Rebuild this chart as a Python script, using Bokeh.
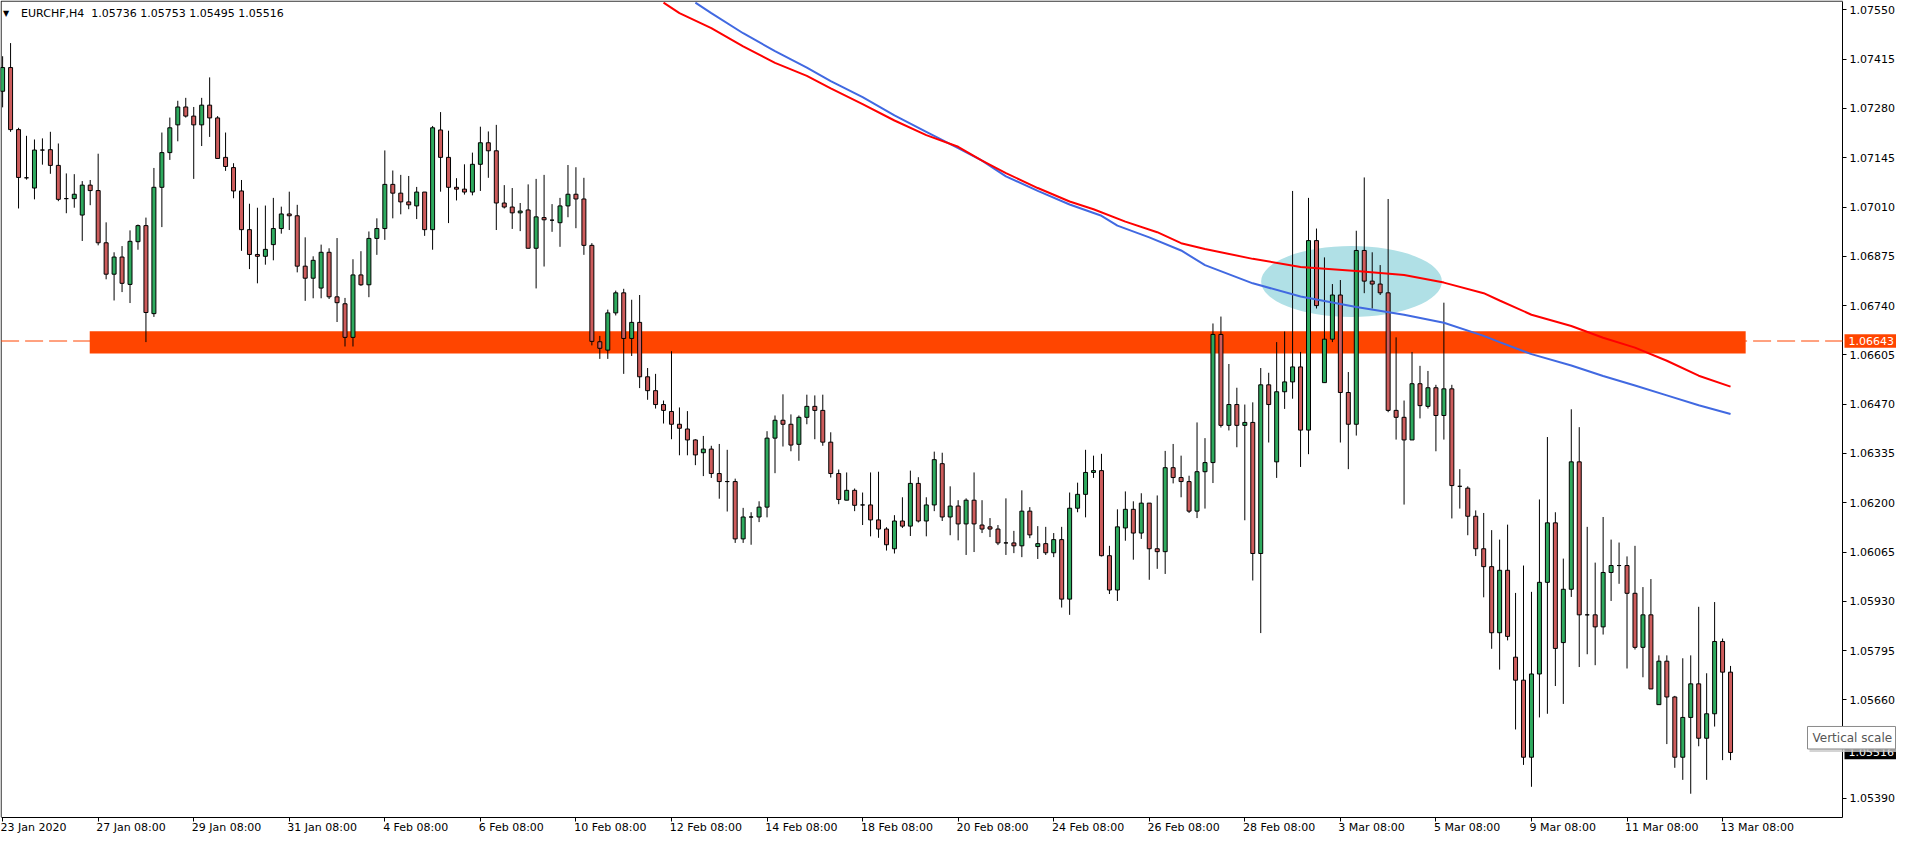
from bokeh.plotting import figure
from bokeh.models import (Range1d, FixedTicker, PrintfTickFormatter, Label,
                          ColumnDataSource, LinearAxis)
from bokeh.core.properties import value
from bokeh.embed import file_html
from bokeh.resources import INLINE

# ---------------- data (EURCHF, H4) ----------------
open_ = [
    1.07327, 1.07392, 1.07222, 1.07090, 1.07062, 1.07166, 1.07167, 1.07124, 1.07033, 1.07033,
    1.06988, 1.07070, 1.07055, 1.06912, 1.06826, 1.06873, 1.06798, 1.06915, 1.06959, 1.06718,
    1.07064, 1.07159, 1.07235, 1.07284, 1.07259, 1.07235, 1.07289, 1.07254, 1.07146, 1.07118,
    1.07054, 1.06948, 1.06880, 1.06875, 1.06907, 1.06951, 1.06991, 1.06986, 1.06848, 1.06815,
    1.06788, 1.06886, 1.06764, 1.06745, 1.06653, 1.06824, 1.06797, 1.06924, 1.06951, 1.07072,
    1.07048, 1.07024, 1.07013, 1.07051, 1.06948, 1.07221, 1.07146, 1.07064, 1.07059, 1.07051,
    1.07127, 1.07186, 1.07164, 1.07021, 1.07010, 1.06994, 1.07002, 1.06897, 1.06981, 1.06974,
    1.06967, 1.07013, 1.07045, 1.07032, 1.06905, 1.06641, 1.06618, 1.06720, 1.06775, 1.06650,
    1.06694, 1.06545, 1.06507, 1.06469, 1.06450, 1.06415, 1.06402, 1.06372, 1.06337, 1.06347,
    1.06280, 1.06258, 1.06258, 1.06101, 1.06161, 1.06161, 1.06188, 1.06377, 1.06426, 1.06415,
    1.06360, 1.06434, 1.06464, 1.06453, 1.06366, 1.06280, 1.06207, 1.06234, 1.06194, 1.06194,
    1.06153, 1.06128, 1.06074, 1.06150, 1.06136, 1.06253, 1.06150, 1.06194, 1.06307, 1.06161,
    1.06191, 1.06142, 1.06207, 1.06139, 1.06134, 1.06128, 1.06090, 1.06090, 1.06082, 1.06177,
    1.06080, 1.06088, 1.06063, 1.06099, 1.05936, 1.06185, 1.06223, 1.06283, 1.06288, 1.06055,
    1.05961, 1.06131, 1.06182, 1.06117, 1.06199, 1.06074, 1.06066, 1.06296, 1.06269, 1.06258,
    1.06177, 1.06285, 1.06310, 1.06661, 1.06412, 1.06469, 1.06412, 1.06420, 1.06061, 1.06523,
    1.06312, 1.06504, 1.06531, 1.06572, 1.06399, 1.06918, 1.06529, 1.06648, 1.06769, 1.06502,
    1.06415, 1.06891, 1.06807, 1.06799, 1.06775, 1.06453, 1.06434, 1.06372, 1.06526, 1.06464,
    1.06515, 1.06439, 1.06512, 1.06245, 1.06240, 1.06163, 1.06074, 1.06025, 1.05844, 1.06015,
    1.05777, 1.05714, 1.05503, 1.05731, 1.05982, 1.06145, 1.05817, 1.05963, 1.06312, 1.05893,
    1.05893, 1.05860, 1.06009, 1.06028, 1.06028, 1.05952, 1.05804, 1.05893, 1.05647, 1.05766,
    1.05668, 1.05503, 1.05612, 1.05704, 1.05555, 1.05622, 1.05820, 1.05736,
]
high_ = [
    1.07423, 1.07459, 1.07227, 1.07205, 1.07195, 1.07198, 1.07216, 1.07184, 1.07102, 1.07100,
    1.07081, 1.07084, 1.07156, 1.06968, 1.06886, 1.06903, 1.06946, 1.06962, 1.06981, 1.07117,
    1.07214, 1.07255, 1.07301, 1.07309, 1.07284, 1.07309, 1.07365, 1.07259, 1.07214, 1.07130,
    1.07084, 1.07019, 1.07008, 1.07014, 1.07035, 1.07011, 1.07052, 1.07016, 1.06927, 1.06875,
    1.06907, 1.06897, 1.06925, 1.06761, 1.06867, 1.06889, 1.06943, 1.06979, 1.07165, 1.07110,
    1.07098, 1.07095, 1.07065, 1.07051, 1.07232, 1.07270, 1.07219, 1.07089, 1.07127, 1.07159,
    1.07230, 1.07217, 1.07235, 1.07070, 1.07062, 1.07021, 1.07072, 1.07087, 1.07098, 1.07018,
    1.07035, 1.07125, 1.07119, 1.07090, 1.06911, 1.06657, 1.06729, 1.06781, 1.06786, 1.06756,
    1.06769, 1.06569, 1.06553, 1.06480, 1.06615, 1.06461, 1.06451, 1.06374, 1.06383, 1.06356,
    1.06361, 1.06345, 1.06266, 1.06186, 1.06174, 1.06204, 1.06396, 1.06439, 1.06497, 1.06442,
    1.06439, 1.06496, 1.06494, 1.06496, 1.06393, 1.06291, 1.06283, 1.06239, 1.06228, 1.06283,
    1.06285, 1.06133, 1.06166, 1.06215, 1.06288, 1.06270, 1.06215, 1.06340, 1.06337, 1.06245,
    1.06207, 1.06212, 1.06283, 1.06207, 1.06158, 1.06139, 1.06212, 1.06123, 1.06234, 1.06188,
    1.06136, 1.06134, 1.06117, 1.06134, 1.06228, 1.06255, 1.06345, 1.06329, 1.06334, 1.06082,
    1.06182, 1.06231, 1.06204, 1.06226, 1.06199, 1.06220, 1.06342, 1.06361, 1.06329, 1.06274,
    1.06420, 1.06377, 1.06691, 1.06710, 1.06580, 1.06515, 1.06469, 1.06475, 1.06569, 1.06556,
    1.06640, 1.06669, 1.07054, 1.06613, 1.07035, 1.06951, 1.06872, 1.06799, 1.06810, 1.06558,
    1.06945, 1.07091, 1.06886, 1.06851, 1.07032, 1.06653, 1.06480, 1.06613, 1.06575, 1.06561,
    1.06523, 1.06748, 1.06523, 1.06292, 1.06245, 1.06179, 1.06172, 1.06125, 1.06099, 1.06140,
    1.05953, 1.06028, 1.05956, 1.06209, 1.06380, 1.06174, 1.06047, 1.06456, 1.06407, 1.06134,
    1.06036, 1.06161, 1.06099, 1.06091, 1.06053, 1.06082, 1.05969, 1.05991, 1.05782, 1.05782,
    1.05671, 1.05774, 1.05782, 1.05915, 1.05733, 1.05928, 1.05828, 1.05753,
]
low_ = [
    1.07283, 1.07216, 1.07006, 1.07085, 1.07031, 1.07126, 1.07101, 1.07026, 1.06993, 1.07008,
    1.06917, 1.07015, 1.06905, 1.06812, 1.06754, 1.06777, 1.06747, 1.06893, 1.06640, 1.06709,
    1.06955, 1.07139, 1.07190, 1.07255, 1.07087, 1.07177, 1.07202, 1.07143, 1.07109, 1.07034,
    1.06890, 1.06840, 1.06801, 1.06852, 1.06864, 1.06937, 1.06947, 1.06831, 1.06753, 1.06760,
    1.06760, 1.06758, 1.06695, 1.06628, 1.06628, 1.06794, 1.06763, 1.06879, 1.06920, 1.06979,
    1.06990, 1.07004, 1.06977, 1.06931, 1.06893, 1.07052, 1.06966, 1.07028, 1.07044, 1.07042,
    1.07054, 1.07090, 1.06947, 1.07006, 1.06950, 1.06944, 1.06897, 1.06787, 1.06847, 1.06942,
    1.06901, 1.06982, 1.06952, 1.06879, 1.06631, 1.06594, 1.06594, 1.06713, 1.06553, 1.06602,
    1.06514, 1.06482, 1.06458, 1.06417, 1.06374, 1.06330, 1.06330, 1.06303, 1.06273, 1.06268,
    1.06211, 1.06176, 1.06090, 1.06090, 1.06085, 1.06147, 1.06160, 1.06281, 1.06354, 1.06341,
    1.06315, 1.06415, 1.06374, 1.06356, 1.06269, 1.06196, 1.06207, 1.06177, 1.06139, 1.06108,
    1.06104, 1.06069, 1.06061, 1.06131, 1.06109, 1.06146, 1.06108, 1.06177, 1.06150, 1.06111,
    1.06097, 1.06057, 1.06065, 1.06117, 1.06106, 1.06084, 1.06057, 1.06062, 1.06051, 1.06103,
    1.06046, 1.06057, 1.06051, 1.05913, 1.05893, 1.06174, 1.06160, 1.06268, 1.06053, 1.05950,
    1.05931, 1.06096, 1.06044, 1.06101, 1.05989, 1.06019, 1.06005, 1.06253, 1.06215, 1.06172,
    1.06158, 1.06184, 1.06254, 1.06406, 1.06398, 1.06352, 1.06152, 1.05987, 1.05843, 1.06365,
    1.06268, 1.06457, 1.06485, 1.06298, 1.06333, 1.06732, 1.06529, 1.06640, 1.06365, 1.06292,
    1.06384, 1.06774, 1.06732, 1.06769, 1.06448, 1.06373, 1.06195, 1.06372, 1.06431, 1.06458,
    1.06341, 1.06373, 1.06157, 1.06184, 1.06111, 1.06054, 1.05941, 1.05800, 1.05743, 1.05823,
    1.05579, 1.05482, 1.05422, 1.05612, 1.05622, 1.05698, 1.05649, 1.05942, 1.05750, 1.05785,
    1.05755, 1.05839, 1.05931, 1.05978, 1.05746, 1.05798, 1.05722, 1.05690, 1.05647, 1.05539,
    1.05474, 1.05441, 1.05403, 1.05533, 1.05441, 1.05587, 1.05495, 1.05495,
]
close_ = [
    1.07392, 1.07222, 1.07091, 1.07090, 1.07166, 1.07166, 1.07124, 1.07031, 1.07033, 1.07045,
    1.07070, 1.07055, 1.06912, 1.06826, 1.06873, 1.06801, 1.06916, 1.06959, 1.06721, 1.07064,
    1.07159, 1.07227, 1.07284, 1.07259, 1.07235, 1.07289, 1.07254, 1.07143, 1.07121, 1.07054,
    1.06948, 1.06880, 1.06875, 1.06894, 1.06951, 1.06991, 1.06986, 1.06848, 1.06815, 1.06864,
    1.06886, 1.06764, 1.06748, 1.06653, 1.06824, 1.06797, 1.06924, 1.06951, 1.07072, 1.07048,
    1.07024, 1.07016, 1.07051, 1.06948, 1.07227, 1.07146, 1.07064, 1.07059, 1.07051, 1.07127,
    1.07186, 1.07164, 1.07021, 1.07010, 1.06994, 1.06999, 1.06897, 1.06983, 1.06975, 1.06974,
    1.07013, 1.07045, 1.07032, 1.06905, 1.06642, 1.06623, 1.06720, 1.06775, 1.06650, 1.06694,
    1.06545, 1.06507, 1.06469, 1.06453, 1.06415, 1.06404, 1.06372, 1.06331, 1.06347, 1.06280,
    1.06258, 1.06258, 1.06101, 1.06161, 1.06161, 1.06188, 1.06377, 1.06426, 1.06415, 1.06358,
    1.06434, 1.06464, 1.06453, 1.06366, 1.06280, 1.06209, 1.06234, 1.06193, 1.06194, 1.06153,
    1.06128, 1.06085, 1.06150, 1.06136, 1.06253, 1.06150, 1.06194, 1.06318, 1.06161, 1.06191,
    1.06142, 1.06207, 1.06142, 1.06128, 1.06128, 1.06090, 1.06090, 1.06082, 1.06177, 1.06112,
    1.06088, 1.06063, 1.06099, 1.05936, 1.06185, 1.06223, 1.06283, 1.06288, 1.06055, 1.05961,
    1.06134, 1.06182, 1.06117, 1.06199, 1.06074, 1.06066, 1.06296, 1.06269, 1.06258, 1.06177,
    1.06285, 1.06310, 1.06661, 1.06412, 1.06469, 1.06412, 1.06420, 1.06061, 1.06523, 1.06469,
    1.06504, 1.06531, 1.06572, 1.06399, 1.06918, 1.06740, 1.06648, 1.06769, 1.06502, 1.06415,
    1.06891, 1.06807, 1.06799, 1.06775, 1.06453, 1.06434, 1.06372, 1.06526, 1.06466, 1.06515,
    1.06439, 1.06512, 1.06247, 1.06245, 1.06163, 1.06074, 1.06025, 1.05844, 1.06015, 1.05834,
    1.05714, 1.05503, 1.05731, 1.05982, 1.06145, 1.05801, 1.05963, 1.06312, 1.05893, 1.05893,
    1.05860, 1.06009, 1.06028, 1.06028, 1.05952, 1.05804, 1.05893, 1.05690, 1.05766, 1.05668,
    1.05503, 1.05612, 1.05704, 1.05555, 1.05622, 1.05820, 1.05736, 1.05516,
]

# moving averages (bar index, price)
ma_red_bar = [83, 85, 89, 93, 97, 101, 104, 108, 112, 116, 120, 123, 126, 130, 134, 137, 141,
              145, 148, 151, 157, 163, 170, 176, 181, 186, 188, 192, 197, 201, 205, 209, 213, 217]
ma_red_val = [1.07570, 1.07541, 1.07500, 1.07450, 1.07405, 1.07369, 1.07335, 1.07292, 1.07247,
              1.07207, 1.07175, 1.07137, 1.07103, 1.07062, 1.07025, 1.07004, 1.06970, 1.06941,
              1.06911, 1.06895, 1.06868, 1.06846, 1.06835, 1.06824, 1.06803, 1.06774, 1.06754,
              1.06715, 1.06684, 1.06652, 1.06625, 1.06589, 1.06548, 1.06518]
ma_blue_bar = [87, 89, 93, 97, 101, 104, 108, 112, 116, 120, 123, 126, 130, 134, 138, 140, 144,
               148, 151, 157, 163, 170, 176, 181, 186, 188, 192, 197, 201, 205, 209, 213, 217]
ma_blue_val = [1.07570, 1.07541, 1.07486, 1.07437, 1.07392, 1.07355, 1.07311, 1.07261, 1.07216,
               1.07171, 1.07137, 1.07094, 1.07054, 1.07017, 1.06986, 1.06959, 1.06927, 1.06891,
               1.06851, 1.06801, 1.06765, 1.06736, 1.06715, 1.06693, 1.06657, 1.06640, 1.06607,
               1.06576, 1.06547, 1.06521, 1.06494, 1.06467, 1.06443]

# time axis labels (every 12 bars)
tick_bars = list(range(0, 217, 12))
tick_labels = ["23 Jan 2020", "27 Jan 08:00", "29 Jan 08:00", "31 Jan 08:00", "4 Feb 08:00",
               "6 Feb 08:00", "10 Feb 08:00", "12 Feb 08:00", "14 Feb 08:00", "18 Feb 08:00",
               "20 Feb 08:00", "24 Feb 08:00", "26 Feb 08:00", "28 Feb 08:00", "3 Mar 08:00",
               "5 Mar 08:00", "9 Mar 08:00", "11 Mar 08:00", "13 Mar 08:00"]

# price axis ticks
price_ticks = [1.05390, 1.05660, 1.05795, 1.05930, 1.06065, 1.06200, 1.06335, 1.06470,
               1.06605, 1.06740, 1.06875, 1.07010, 1.07145, 1.07280, 1.07415, 1.07550]

# drawn objects
hline_price = 1.06643
zone_top, zone_bottom = 1.06670, 1.06609
zone_start, zone_end = 10.94, 218.9
ellipse_bar, ellipse_price = 169.4, 1.06806
ellipse_w, ellipse_h = 22.7, 0.00194
last_price = close_[-1]
symbol_text = "EURCHF,H4\u00a0 1.05736 1.05753 1.05495 1.05516"

# ---------------- layout geometry ----------------
W, H = 1896, 834
chart_left, chart_right = -0.19, 231.06        # bar units: chart area edges
chart_bottom, chart_top = 1.05339, 1.07574     # price units: chart area edges
PX_X = (chart_right - chart_left) / 1841.4      # bars per pixel
PX_Y = (chart_top - chart_bottom) / 816.0       # price per pixel
x0 = chart_left - 0.6 * PX_X
x1 = x0 + W * PX_X
y1 = chart_top + 0.6 * PX_Y
y0 = y1 - H * PX_Y

FONT = "DejaVu Sans"
BULL = "#2EAA5E"
BEAR = "#CD5C5C"
ORANGE = "#FF4500"

p = figure(width=W, height=H, output_backend="svg", toolbar_location=None,
           x_range=Range1d(x0, x1), y_range=Range1d(y0, y1),
           y_axis_location="right", x_axis_location="below", min_border=0)
p.grid.visible = False
p.outline_line_color = None
p.background_fill_color = "white"
p.border_fill_color = "white"

# right price axis, pinned to the chart's right edge
ya = p.yaxis[0]
ya.fixed_location = chart_right
ya.bounds = (chart_bottom, chart_top)
ya.ticker = FixedTicker(ticks=price_ticks)
ya.formatter = PrintfTickFormatter(format="%.5f")
ya.major_tick_in = 0
ya.major_tick_out = 4
ya.minor_tick_in = 0
ya.minor_tick_out = 0
ya.major_label_standoff = 3
ya.major_label_text_font = FONT
ya.major_label_text_font_size = "11px"
ya.major_label_text_color = "black"
ya.axis_line_color = "black"
ya.major_tick_line_color = "black"
ya.level = "underlay"

# bottom time axis: tick marks
xa = p.xaxis[0]
xa.fixed_location = chart_bottom
xa.bounds = (chart_left, chart_right)
xa.ticker = FixedTicker(ticks=tick_bars)
xa.major_label_overrides = {b: "" for b in tick_bars}
xa.major_tick_in = 0
xa.major_tick_out = 4
xa.minor_tick_in = 0
xa.minor_tick_out = 0
xa.axis_line_color = "black"
xa.major_tick_line_color = "black"

# bottom time axis: labels that start at their tick (MT4 style)
def _label_width(s):
    w = {" ": 3.5, ":": 3.7, "J": 3.24, "a": 6.74, "n": 6.97, "F": 6.33, "e": 6.77,
         "b": 6.98, "M": 9.49, "r": 4.52}
    return sum(w.get(ch, 7.0) for ch in s)

label_pos = [round(b + (_label_width(t) / 2 - 2) * PX_X, 3) for b, t in zip(tick_bars, tick_labels)]
xl = LinearAxis(ticker=FixedTicker(ticks=label_pos),
                major_label_overrides={pos: t for pos, t in zip(label_pos, tick_labels)},
                fixed_location=chart_bottom, bounds=(chart_left, chart_right + 10),
                axis_line_color=None, major_tick_line_color=None, minor_tick_line_color=None,
                major_tick_out=0, major_tick_in=0, minor_tick_out=0, minor_tick_in=0,
                major_label_standoff=4, major_label_text_font=FONT,
                major_label_text_font_size="11px", major_label_text_color="black")
p.add_layout(xl, "below")

# chart frame (top and left edges; bottom/right are the axes)
p.line([chart_left, chart_right], [chart_top, chart_top], line_color="black", line_width=1)
p.line([chart_left, chart_left], [chart_bottom, chart_top], line_color="black", line_width=1)

# horizontal line
p.line([chart_left, chart_right], [hline_price, hline_price], line_color=ORANGE,
       line_dash="18 6", line_width=1)

# zone rectangle
p.quad(left=[zone_start], right=[zone_end], top=[zone_top], bottom=[zone_bottom],
       fill_color=ORANGE, line_color=None)

# highlight ellipse
p.ellipse(x=[ellipse_bar], y=[ellipse_price], width=ellipse_w, height=ellipse_h,
          fill_color="#B0E0E6", line_color=None)

# candles
n = len(close_)
bars = list(range(n))
src = ColumnDataSource(dict(
    x=bars,
    high=high_,
    low=low_,
    top=[max(o, c) for o, c in zip(open_, close_)],
    bottom=[min(o, c) for o, c in zip(open_, close_)],
    color=[BULL if c >= o else BEAR for o, c in zip(open_, close_)],
))
p.segment(x0="x", y0="low", x1="x", y1="high", source=src, line_color="black", line_width=1)
p.vbar(x="x", width=0.5, top="top", bottom="bottom", source=src,
       fill_color="color", line_color="black", line_width=1)

# moving averages
p.line(ma_blue_bar, ma_blue_val, line_color="#4169E1", line_width=2)
p.line(ma_red_bar, ma_red_val, line_color="#FF0000", line_width=2)

# symbol header
p.add_layout(Label(x=chart_left + 2 * PX_X, y=chart_top - 12 * PX_Y, text="\u25bc",
                   text_font=FONT, text_font_size="8px", text_baseline="middle",
                   text_align="left", text_color="black"))
p.add_layout(Label(x=chart_left + 20 * PX_X, y=chart_top - 12 * PX_Y, text=symbol_text,
                   text_font=FONT, text_font_size="11px", text_baseline="middle",
                   text_align="left", text_color="black"))

# price tags on the axis
tag_h = 6.8 * PX_Y
for price, bg in [(hline_price, ORANGE), (last_price, "black")]:
    p.quad(left=[chart_right + 2 * PX_X], right=[x1], top=[price + tag_h],
           bottom=[price - tag_h], fill_color=bg, line_color=None)
    p.text(x=[chart_right + 6 * PX_X], y=[price], text=["%.5f" % price],
           text_font=value(FONT), text_font_size="11px", text_color="white",
           text_baseline="middle", text_align="left")

# tooltip "Vertical scale"
tip_left = chart_right - 35 * PX_X
tip_top = last_price + 26 * PX_Y
tip_bottom = last_price + 3.5 * PX_Y
p.quad(left=[tip_left + 2 * PX_X], right=[x1], top=[tip_top - 2 * PX_Y],
       bottom=[tip_bottom - 3 * PX_Y], fill_color="#c9c9c9", line_color=None, fill_alpha=0.8)
p.quad(left=[tip_left], right=[x1 - 1 * PX_X], top=[tip_top], bottom=[tip_bottom],
       fill_color="white", line_color="#8a8a8a", line_width=1)
p.text(x=[tip_left + 5 * PX_X], y=[(tip_top + tip_bottom) / 2], text=["Vertical scale"],
       text_font=value(FONT), text_font_size="12px", text_color="#555555",
       text_baseline="middle", text_align="left")

open("out.html", "w").write(file_html(p, INLINE))
